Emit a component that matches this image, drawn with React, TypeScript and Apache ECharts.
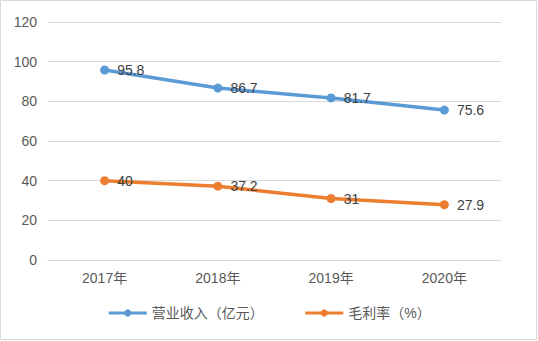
import React, { useEffect, useRef } from "react";
import * as echarts from "echarts";

const categories = ["2017年", "2018年", "2019年", "2020年"];
const revenue = [95.8, 86.7, 81.7, 75.6];
const grossMargin = [40, 37.2, 31, 27.9];
const seriesNames = ["营业收入（亿元）", "毛利率（%）"];

const FONT = "'Liberation Sans', 'Noto Sans CJK SC', sans-serif";

export default function App() {
  const ref = useRef<HTMLDivElement>(null);
  useEffect(() => {
    const chart = echarts.init(ref.current!, null, { renderer: "svg" });
    const mkSeries = (name: string, data: number[], color: string) => ({
      name,
      type: "line",
      data,
      color,
      symbol: "circle",
      symbolSize: 9,
      lineStyle: { width: 3.5, color },
      itemStyle: { color },
      label: {
        show: true,
        position: "right",
        distance: 8,
        color: "#404040",
        fontSize: 14,
        fontFamily: FONT,
      },
    });
    chart.setOption({
      animation: false,
      textStyle: { fontFamily: FONT },
      graphic: [
        {
          type: "rect",
          shape: { x: 0.5, y: 0.5, width: 536, height: 339 },
          style: { fill: "none", stroke: "#d9d9d9", lineWidth: 1 },
          silent: true,
        },
      ],
      grid: { left: 48, right: 37, top: 22, bottom: 81 },
      xAxis: {
        type: "category",
        data: categories,
        boundaryGap: true,
        axisLine: { show: true, lineStyle: { color: "#d9d9d9" } },
        axisTick: { show: false },
        axisLabel: { color: "#595959", fontSize: 14, margin: 11, fontFamily: FONT },
      },
      yAxis: {
        type: "value",
        min: 0,
        max: 120,
        interval: 20,
        axisLine: { show: false },
        axisTick: { show: false },
        splitLine: { lineStyle: { color: "#d9d9d9" } },
        axisLabel: { color: "#595959", fontSize: 14, margin: 11, fontFamily: FONT },
      },
      legend: {
        bottom: 16,
        left: "center",
        itemWidth: 38,
        itemHeight: 9,
        itemGap: 40,
        lineStyle: { width: 3 },
        textStyle: { color: "#595959", fontSize: 14, fontFamily: FONT },
        data: seriesNames,
      },
      series: [
        mkSeries(seriesNames[0], revenue, "#5B9BD5"),
        mkSeries(seriesNames[1], grossMargin, "#ED7D31"),
      ],
    });
    return () => chart.dispose();
  }, []);
  return (
    <div
      ref={ref}
      style={{ position: "fixed", left: 0, top: 0, width: 538, height: 341, background: "#fff" }}
    />
  );
}
